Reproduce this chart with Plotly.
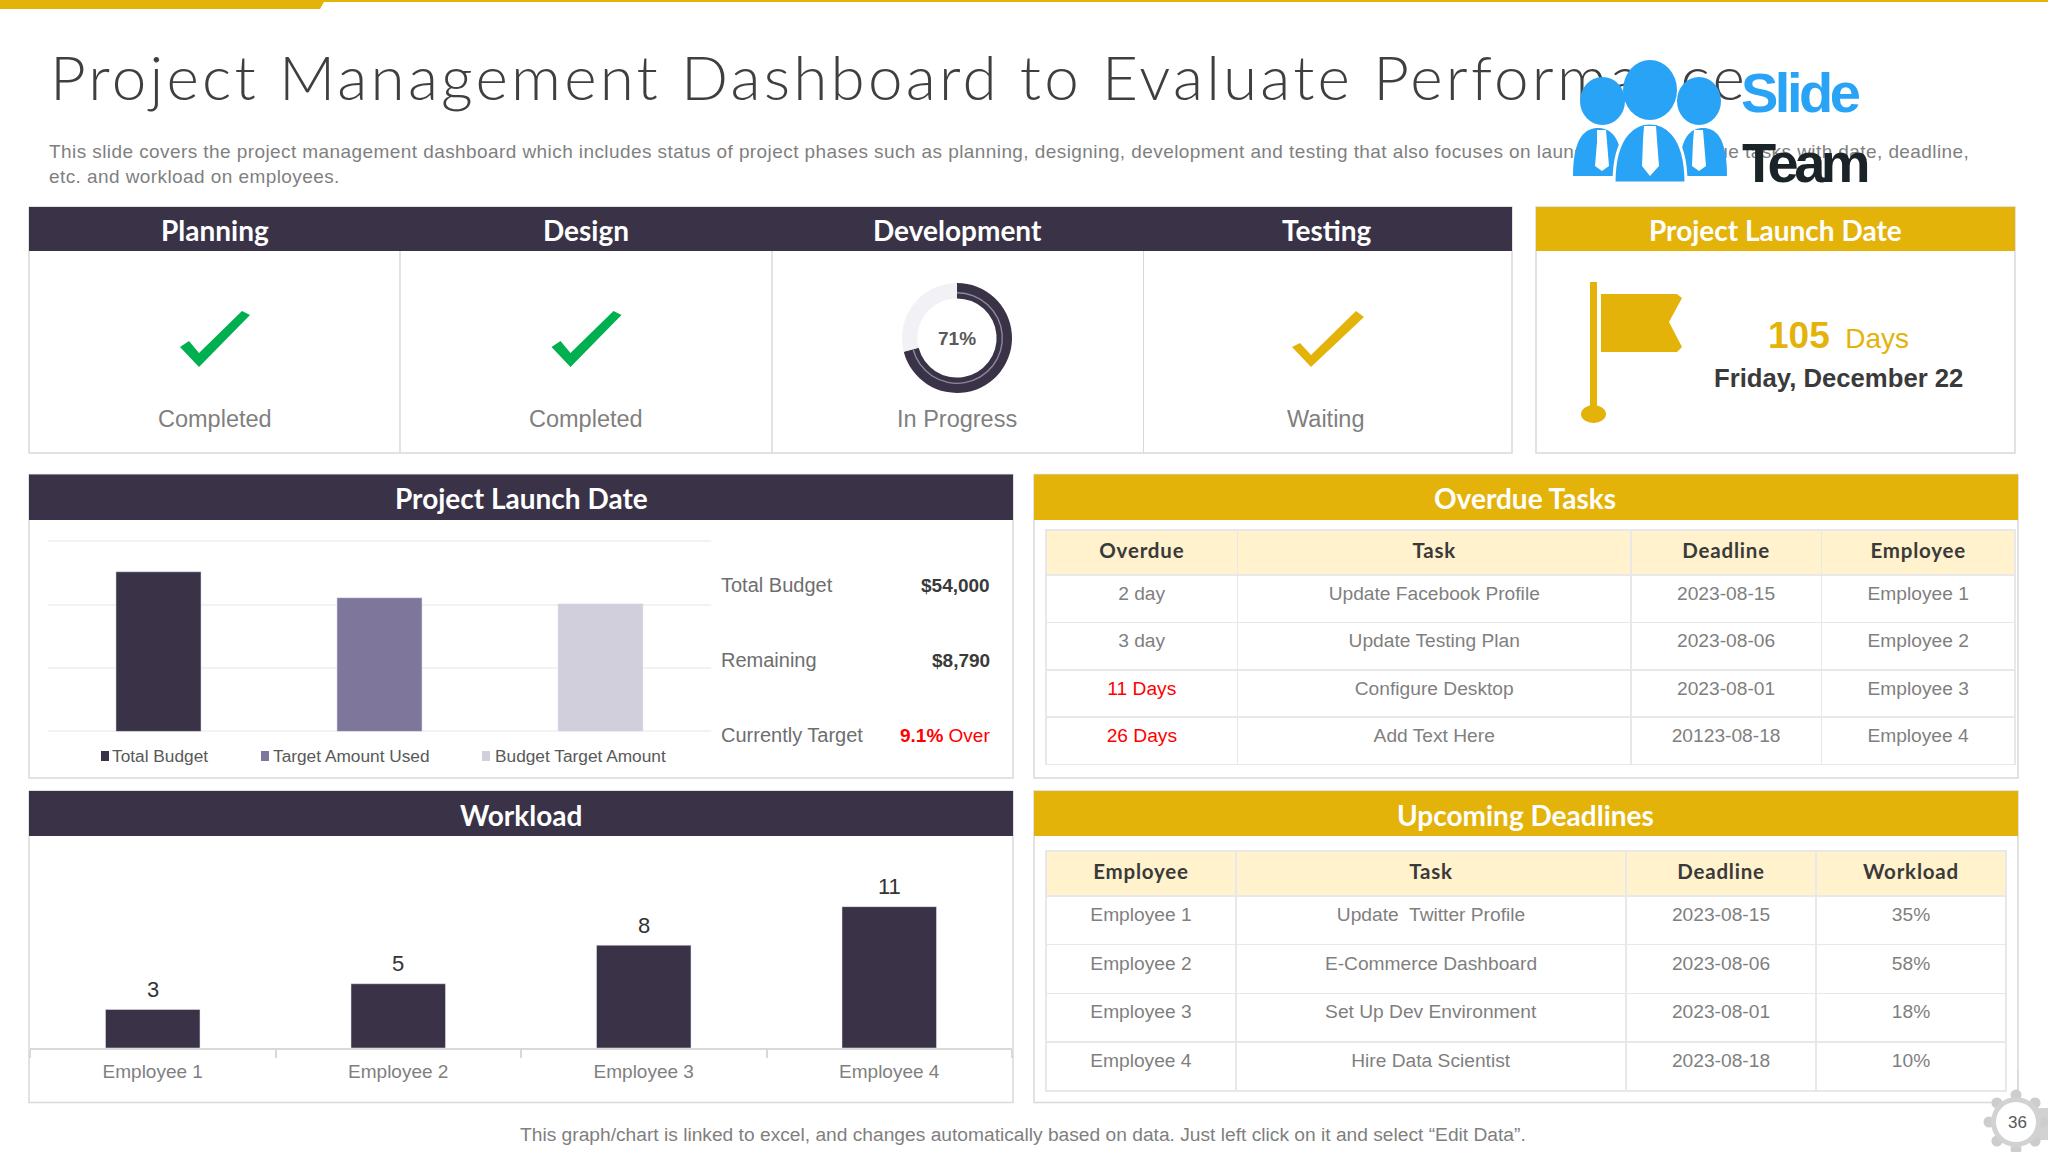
import numpy as np
import plotly.graph_objects as go

W, H = 2048, 1152
DARK = '#3A3347'
GOLD = '#E4B30A'
GREY = '#7F7F7F'
BORDER = '#D9D9D9'
BLUE = '#29A3F5'
HEAD_FONT = 'Lato'
BODY_FONT = 'Liberation Sans'

# status row
phases = ['Planning', 'Design', 'Development', 'Testing']
phase_status = ['Completed', 'Completed', 'In Progress', 'Waiting']
progress_done = 71
progress_left = 29

# budget chart
budget_names = ['Total Budget', 'Target Amount Used', 'Budget Target Amount']
budget_values = [54000, 45210, 43200]
budget_colors = [DARK, '#7F769C', '#D1CFDC']
stat_names = ['Total Budget', 'Remaining', 'Currently Target']
stat_values = ['$54,000', '$8,790', '<b>9.1%</b> Over']

# workload chart
employees = ['Employee 1', 'Employee 2', 'Employee 3', 'Employee 4']
workload = [3, 5, 8, 11]

# overdue table
overdue_head = ['Overdue', 'Task', 'Deadline', 'Employee']
overdue_days = ['2 day', '3 day', '11 Days', '26 Days']
overdue_tasks = ['Update Facebook Profile', 'Update Testing Plan', 'Configure Desktop', 'Add Text Here']
overdue_dates = ['2023-08-15', '2023-08-06', '2023-08-01', '20123-08-18']
overdue_people = ['Employee 1', 'Employee 2', 'Employee 3', 'Employee 4']
overdue_colors = [GREY, GREY, '#FF0000', '#FF0000']

# upcoming table
upcoming_head = ['Employee', 'Task', 'Deadline', 'Workload']
upcoming_people = ['Employee 1', 'Employee 2', 'Employee 3', 'Employee 4']
upcoming_tasks = ['Update  Twitter Profile', 'E-Commerce Dashboard', 'Set Up Dev Environment', 'Hire Data Scientist']
upcoming_dates = ['2023-08-15', '2023-08-06', '2023-08-01', '2023-08-18']
upcoming_load = ['35%', '58%', '18%', '10%']


def px(x):
    return x / W


def py(y):
    return 1 - y / H


shapes = []
notes = []


def rect(x0, y0, x1, y1, fill=None, line=None, lw=1.5, layer='below'):
    shapes.append(dict(type='rect', xref='paper', yref='paper', x0=px(x0), x1=px(x1), y0=py(y0), y1=py(y1),
                       fillcolor=fill or 'rgba(0,0,0,0)', line=dict(color=line or 'rgba(0,0,0,0)', width=lw if line else 0),
                       layer=layer))


def oval(x0, y0, x1, y1, fill, layer='above'):
    shapes.append(dict(type='circle', xref='paper', yref='paper', x0=px(x0), x1=px(x1), y0=py(y0), y1=py(y1),
                       fillcolor=fill, line=dict(width=0), layer=layer))


def poly(points, fill, layer='above'):
    path = 'M' + ' L'.join(f'{px(a):.5f},{py(b):.5f}' for a, b in points) + ' Z'
    shapes.append(dict(type='path', xref='paper', yref='paper', path=path, fillcolor=fill, line=dict(width=0), layer=layer))


def dome(x0, x1, top, bottom, fill, edge=None):
    # shoulders of the logo figures
    mid = (x0 + x1) / 2
    path = (f'M{px(x0):.5f},{py(bottom):.5f} C{px(x0):.5f},{py(top + 8):.5f} {px(mid - 12):.5f},{py(top):.5f} {px(mid):.5f},{py(top):.5f} '
            f'C{px(mid + 12):.5f},{py(top):.5f} {px(x1):.5f},{py(top + 8):.5f} {px(x1):.5f},{py(bottom):.5f} Z')
    shapes.append(dict(type='path', xref='paper', yref='paper', path=path, fillcolor=fill,
                       line=dict(color=edge or fill, width=3 if edge else 0), layer='above'))


def note(x, y, text, size, color=GREY, family=BODY_FONT, anchor='center'):
    notes.append(dict(xref='paper', yref='paper', x=px(x), y=py(y), text=text, showarrow=False, xanchor=anchor,
                      yanchor='middle', borderpad=0, font=dict(size=size, color=color, family=family)))


def panel(x0, y0, x1, y1, head_bottom, color, title=None, title_x=None):
    rect(x0, y0, x1, y1, fill='white', line=BORDER)
    rect(x0, y0, x1, head_bottom, fill=color)
    if title:
        note(title_x, (y0 + head_bottom) / 2 + 1, f'<b>{title}</b>', 28, 'white', HEAD_FONT)


def text_shape(x0, y0, x1, y1, text, size, color, family, weight='normal'):
    # shape labels sit under the logo, annotations would sit on top of it
    shapes.append(dict(type='rect', xref='paper', yref='paper', x0=px(x0), x1=px(x1), y0=py(y0), y1=py(y1),
                       line=dict(width=0), fillcolor='rgba(0,0,0,0)', layer='below',
                       label=dict(text=text, textposition='middle left', padding=0,
                                  font=dict(size=size, color=color, family=family, weight=weight))))


# top band
rect(0, 0, W, 2, fill=GOLD)
poly([(0, 0), (325, 0), (320, 9), (0, 9)], GOLD, layer='below')

# heading
text_shape(47, 47, 1800, 103, '<span style="letter-spacing:3.2px">Project Management Dashboard to Evaluate Performance</span>',
           62, '#3F3F3F', HEAD_FONT, 300)
text_shape(46, 139, 2000, 185,
           '<span style="letter-spacing:0.42px">This slide covers the project management dashboard which includes status of project phases such as planning, '
           'designing, development and testing that also focuses on launch date of overdue tasks with date, deadline,</span><br>'
           '<span style="letter-spacing:0.42px">etc. and workload on employees.</span>', 19, GREY, BODY_FONT)

# status row
panel(29, 207, 1512, 453, 251, DARK)
for x in [400, 772, 1143.5]:
    rect(x, 251, x, 453, line=BORDER, lw=1)
status_x = [215, 586, 957, 1326]
for cx, name, state in zip(status_x, phases, phase_status):
    note(cx, 230, f'<b>{name}</b>', 28, 'white', HEAD_FONT)
    note(cx, 419, state, 23.5)
tick = [(180, 347), (189, 341), (199, 353), (242, 311), (250, 315), (199, 367)]
poly(tick, '#00B050')
poly([(a + 371.5, b) for a, b in tick], '#00B050')
poly([(1292, 347), (1300, 343), (1311, 355), (1356, 311), (1364, 317), (1311, 367)], GOLD)
note(957, 339, '<b>71%</b>', 19, '#595959')

# launch date card
panel(1536, 207, 2015, 453, 251, GOLD, 'Project Launch Date', 1775)
rect(1590, 282, 1597, 410, fill=GOLD, layer='above')
oval(1581, 405, 1606, 423, GOLD)
poly([(1601, 294), (1677, 294), (1682, 298), (1669, 322), (1682, 347), (1677, 352), (1601, 352)], GOLD)
note(1838, 335, '<b><span style="font-size:37px">105</span></b>  Days', 28, GOLD)
note(1838, 378, '<b>Friday, December 22</b>', 25.7, '#3A3A3A')

# middle and bottom panels
panel(29, 474.5, 1013, 778, 520, DARK, 'Project Launch Date', 521)
panel(29, 791, 1013, 1102.5, 836, DARK, 'Workload', 521)
panel(1034, 474.5, 2018, 778, 520, GOLD, 'Overdue Tasks', 1525)
panel(1034, 791, 2018, 1102.5, 836, GOLD, 'Upcoming Deadlines', 1525)

# budget legend and side figures
for sx, tx, name, color in zip([101, 261, 482], [111, 272, 494], budget_names, budget_colors):
    rect(sx, 751, sx + 8, 761, fill=color)
    note(tx, 755.5, name, 17.3, '#595959', anchor='left')
for sy, name, value in zip([585, 660, 735], stat_names, stat_values):
    note(720, sy, name, 20, '#6E6E6E', anchor='left')
    value_color = '#FF0000' if 'Over' in value else '#3A3A3A'
    note(991, sy, value if 'Over' in value else f'<b>{value}</b>', 19, value_color, anchor='right')

# footer
note(1023, 1134, 'This graph/chart is linked to excel, and changes automatically based on data. Just left click on it and select \u201cEdit Data\u201d.', 19.2)

# page gear
rect(2018, 1070, 2018, 1095, line=BORDER, lw=1.5, layer='below')
rect(2036, 1108, 2048, 1140, fill='#D2D2D2')
for a in np.linspace(0, 2 * np.pi, 9)[:-1] - np.pi / 2:
    gx, gy = 2016 + 27 * np.cos(a), 1122 + 27 * np.sin(a)
    oval(gx - 5.5, gy - 5.5, gx + 5.5, gy + 5.5, '#CDCDCD')
oval(1991, 1097, 2041, 1147, '#D2D2D2')
oval(1996, 1102, 2036, 1142, 'white')
note(2017, 1122, '36', 17, '#595959')

fig = go.Figure()

fig.add_trace(go.Pie(values=[progress_done, progress_left], sort=False, direction='clockwise', rotation=0, hole=0.72,
                     marker=dict(colors=[DARK, '#F2F1F5'], line=dict(width=0)), textinfo='none', showlegend=False,
                     domain=dict(x=[px(902), px(1012)], y=[py(393), py(283)])))
# thin light seam running inside the dark arc
fig.add_trace(go.Pie(values=[progress_done, progress_left], sort=False, direction='clockwise', rotation=0, hole=0.97,
                     marker=dict(colors=['#8E8A9A', 'rgba(0,0,0,0)'], line=dict(width=0)), textinfo='none', showlegend=False,
                     domain=dict(x=[px(911), px(1003)], y=[py(384), py(292)])))

for name, value, color in zip(budget_names, budget_values, budget_colors):
    fig.add_trace(go.Bar(x=[name], y=[value], marker_color=color, showlegend=False, xaxis='x', yaxis='y'))

fig.add_trace(go.Bar(x=employees, y=workload, marker_color=DARK, showlegend=False, xaxis='x2', yaxis='y2'))

for name, value in zip(employees, workload):
    notes.append(dict(xref='x2', yref='y2', x=name, y=value, text=str(value), showarrow=False, yanchor='middle', yshift=20,
                      font=dict(size=22, color='#333333', family=BODY_FONT)))


def make_table(head, columns, widths, colors, head_h, row_h, x0, y0, x1, y1):
    # a trailing <br> stops the table wrapping on the space inside the span tag;
    # the larger cell font pushes the text down in the row, the span keeps the visible size
    head_text = [f'<b><span style="font-size:20.5px;letter-spacing:0.8px">{h}</span></b><br>' for h in head]
    cell_text = [[f'<span style="font-size:19.2px">{v}</span><br>' for v in col] for col in columns]
    return go.Table(
        domain=dict(x=[px(x0), px(x1)], y=[py(y1), py(y0)]),
        columnwidth=widths,
        header=dict(values=head_text, fill_color='#FFF2CC', line=dict(color='#E8E8E8', width=1.5),
                    align='center', height=head_h, font=dict(size=24, color='#3A3A3A', family=HEAD_FONT)),
        cells=dict(values=cell_text, fill_color='white', line=dict(color='#E8E8E8', width=1.5), align='center', height=row_h,
                   font=dict(size=26, color=colors, family=BODY_FONT)))


fig.add_trace(make_table(overdue_head, [overdue_days, overdue_tasks, overdue_dates, overdue_people],
                         [191.6, 393, 190.6, 193.5], [overdue_colors, GREY, GREY, GREY], 45, 47.4, 1046, 530, 2015, 772))
fig.add_trace(make_table(upcoming_head, [upcoming_people, upcoming_tasks, upcoming_dates, upcoming_load],
                         [190, 390, 190, 190], [GREY, GREY, GREY, GREY], 45, 48.7, 1046, 851, 2006, 1098))

# logo goes over the heading
oval(1580, 77, 1625, 125, BLUE)
oval(1623, 60, 1677, 120, BLUE)
oval(1677, 77, 1721, 125, BLUE)
dome(1573, 1623, 128, 176, BLUE)
dome(1679, 1727, 128, 176, BLUE)
dome(1614, 1686, 123, 183, BLUE, edge='white')
poly([(1597, 130), (1606, 130), (1607, 142), (1609, 166), (1602, 171), (1595, 166), (1597, 142)], 'white')
poly([(1644, 126), (1656, 126), (1657, 140), (1659, 166), (1650, 176), (1642, 166), (1643, 140)], 'white')
poly([(1694, 130), (1703, 130), (1704, 142), (1706, 166), (1699, 171), (1692, 166), (1693, 142)], 'white')
note(1740, 92, '<b><span style="letter-spacing:-3.5px">Slide</span></b>', 56, BLUE, anchor='left')
note(1741, 162, '<b><span style="letter-spacing:-4.5px">Team</span></b>', 56, '#1A2328', anchor='left')

fig.update_layout(
    width=W, height=H,
    margin=dict(l=0, r=0, t=0, b=0),
    paper_bgcolor='white', plot_bgcolor='rgba(0,0,0,0)',
    showlegend=False, barmode='overlay',
    shapes=shapes, annotations=notes,
    bargap=0.615,
    xaxis=dict(domain=[px(48), px(711)], anchor='y', type='category', categoryorder='array', categoryarray=budget_names,
               showticklabels=False, ticks='', showgrid=False, zeroline=False, showline=False, fixedrange=True),
    yaxis=dict(domain=[py(731.4), py(535)], anchor='x', range=[0, 66430], dtick=21450, showticklabels=False, ticks='',
               showgrid=True, gridcolor='#F2F2F2', gridwidth=1.5, zeroline=True, zerolinecolor='#F2F2F2', zerolinewidth=1.5,
               showline=False, fixedrange=True),
    xaxis2=dict(domain=[px(30), px(1012)], anchor='y2', type='category', tickson='boundaries', ticks='outside', ticklen=8,
                tickcolor=BORDER, tickwidth=1.5, showgrid=False, zeroline=False, showline=True, linecolor=BORDER, linewidth=2,
                ticklabelstandoff=5, tickfont=dict(size=19, color=GREY, family=BODY_FONT), fixedrange=True),
    yaxis2=dict(domain=[py(1048), py(846)], anchor='x2', range=[0, 15.72], showticklabels=False, ticks='', showgrid=False,
                zeroline=False, showline=False, fixedrange=True),
)

fig.write_html('out.html', config=dict(displayModeBar=False),
               post_script="document.body.style.margin='0';document.body.style.overflow='hidden';")
